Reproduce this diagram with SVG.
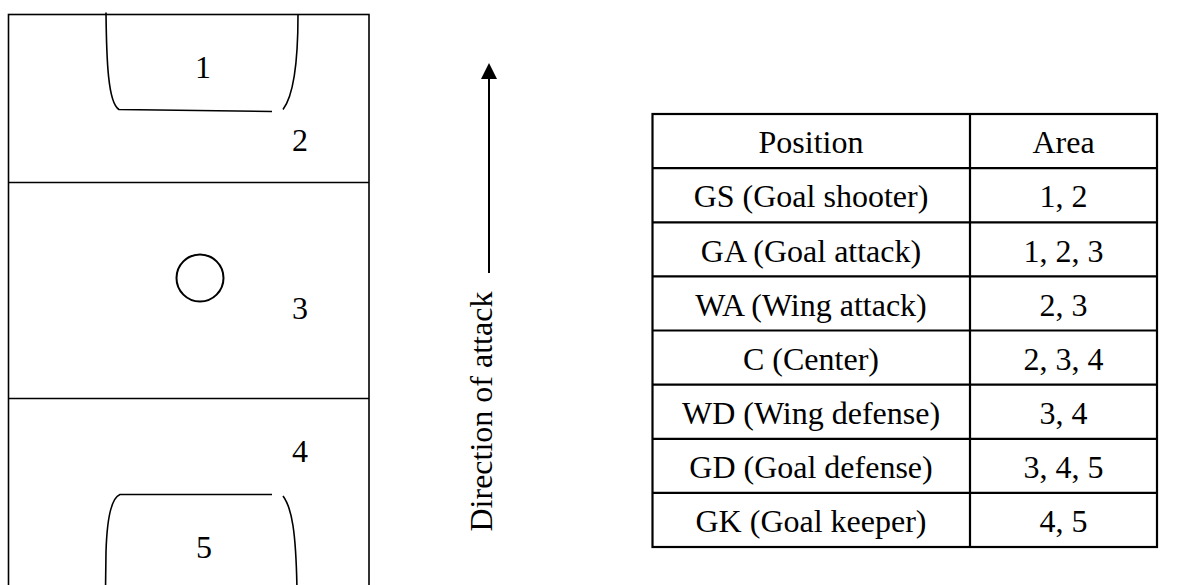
<svg xmlns="http://www.w3.org/2000/svg" width="1185" height="585" viewBox="0 0 1185 585">
<style>
  text { font-family: "Liberation Serif", "Times New Roman", serif; font-size: 32px; fill: #000; }
  .c { text-anchor: middle; }
  .ln { fill: none; stroke: #000; stroke-width: 1.6; }
  .tb { fill: none; stroke: #000; stroke-width: 2.2; }
</style>
<defs>
  <marker id="ah" markerWidth="16" markerHeight="16" refX="0" refY="8" orient="auto" markerUnits="userSpaceOnUse">
    <path d="M0,0 L16,8 L0,16 Z" fill="#000"/>
  </marker>
</defs>
<g id="court">
  <rect class="ln" x="8.5" y="14.5" width="360.5" height="600"/>
  <line class="ln" x1="8.5" y1="182.5" x2="369" y2="182.5"/>
  <line class="ln" x1="8.5" y1="398.5" x2="369" y2="398.5"/>
  <path class="ln" d="M106,12.5 C106.5,60 108,103 119,109.5 L272,111.5"/>
  <path class="ln" d="M298,15 C298,60 294,95 283,109.5"/>
  <path class="ln" d="M272,494.5 L120,494.5 C111,498 107,518 106,552 L105.5,590"/>
  <path class="ln" d="M283,496 C292,508 296,532 297,590"/>
  <circle cx="200" cy="278" r="23.5" fill="none" stroke="#000" stroke-width="2"/>
  <text class="c" x="203" y="78">1</text>
  <text class="c" x="300" y="151">2</text>
  <text class="c" x="300" y="319">3</text>
  <text class="c" x="300" y="462">4</text>
  <text class="c" x="204" y="558">5</text>
</g>
<g id="connectors">
  <line x1="489" y1="273" x2="489" y2="79" stroke="#000" stroke-width="2" marker-end="url(#ah)"/>
</g>
<g id="direction-label">
  <text transform="translate(491.5,531.5) rotate(-90)">Direction of attack</text>
</g>
<g id="table">
  <rect class="tb" x="652.5" y="114" width="504.5" height="433"/>
  <line class="tb" x1="970" y1="114" x2="970" y2="547"/>
  <line class="tb" x1="652.5" y1="168.1" x2="1157" y2="168.1"/>
  <line class="tb" x1="652.5" y1="222.3" x2="1157" y2="222.3"/>
  <line class="tb" x1="652.5" y1="276.4" x2="1157" y2="276.4"/>
  <line class="tb" x1="652.5" y1="330.5" x2="1157" y2="330.5"/>
  <line class="tb" x1="652.5" y1="384.6" x2="1157" y2="384.6"/>
  <line class="tb" x1="652.5" y1="438.8" x2="1157" y2="438.8"/>
  <line class="tb" x1="652.5" y1="492.9" x2="1157" y2="492.9"/>
  <g id="row-header"><text class="c" x="811" y="153.3">Position</text><text class="c" x="1063.5" y="153.3">Area</text></g>
  <g id="row-gs"><text class="c" x="811" y="207.4">GS (Goal shooter)</text><text class="c" x="1063.5" y="207.4">1, 2</text></g>
  <g id="row-ga"><text class="c" x="811" y="261.6">GA (Goal attack)</text><text class="c" x="1063.5" y="261.6">1, 2, 3</text></g>
  <g id="row-wa"><text class="c" x="811" y="315.7">WA (Wing attack)</text><text class="c" x="1063.5" y="315.7">2, 3</text></g>
  <g id="row-c"><text class="c" x="811" y="369.8">C (Center)</text><text class="c" x="1063.5" y="369.8">2, 3, 4</text></g>
  <g id="row-wd"><text class="c" x="811" y="423.9">WD (Wing defense)</text><text class="c" x="1063.5" y="423.9">3, 4</text></g>
  <g id="row-gd"><text class="c" x="811" y="478.1">GD (Goal defense)</text><text class="c" x="1063.5" y="478.1">3, 4, 5</text></g>
  <g id="row-gk"><text class="c" x="811" y="532.2">GK (Goal keeper)</text><text class="c" x="1063.5" y="532.2">4, 5</text></g>
</g>
</svg>
